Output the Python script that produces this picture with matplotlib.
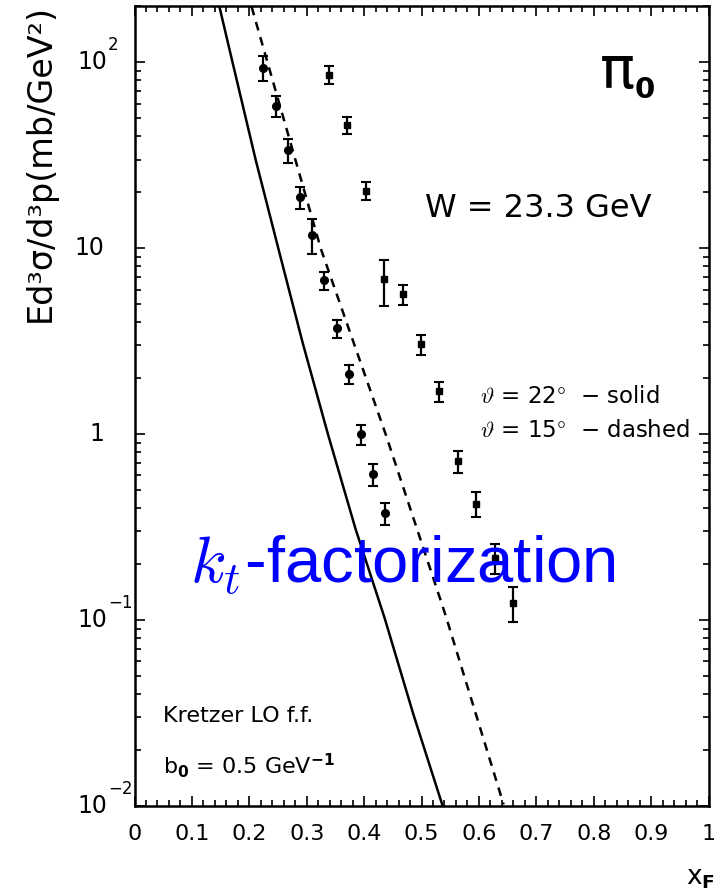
import numpy as np
import matplotlib
matplotlib.use("Agg")
import matplotlib.pyplot as plt
from matplotlib.ticker import FixedLocator, MultipleLocator, NullFormatter
import matplotlib.transforms as mtransforms

# measured invariant cross sections, pi0 at W = 23.3 GeV
xf_circ = [0.224, 0.246, 0.268, 0.289, 0.309, 0.331, 0.352, 0.373, 0.395, 0.416, 0.437]
sig_circ = [93.7, 58.5, 33.7, 18.8, 11.8, 6.71, 3.71, 2.12, 1.00, 0.61, 0.376]
err_circ = [14.5, 7.6, 5.0, 2.5, 2.5, 0.75, 0.41, 0.25, 0.12, 0.083, 0.051]

xf_sq = [0.338, 0.371, 0.403, 0.434, 0.467, 0.499, 0.531, 0.563, 0.595, 0.628, 0.659]
sig_sq = [85.8, 46.2, 20.4, 6.8, 5.65, 3.05, 1.70, 0.713, 0.422, 0.216, 0.124]
err_sq = [9.5, 4.9, 2.3, 1.9, 0.70, 0.38, 0.21, 0.097, 0.065, 0.040, 0.026]

# k_t-factorization curves
xf_solid = [0.148, 0.171, 0.211, 0.251, 0.293, 0.337, 0.385, 0.436, 0.486, 0.536]
sig_solid = [199.0, 99.4, 30.0, 9.86, 3.1, 1.0, 0.31, 0.102, 0.031, 0.0102]
xf_dashed = [0.204, 0.325, 0.438, 0.542, 0.643]
sig_dashed = [199.0, 9.86, 0.99, 0.106, 0.0102]

ytick_vals = [1e-2, 1e-1, 1, 10, 100]
ytick_base = ["10", "10", "1", "10", "10"]
ytick_exp = ["\u22122", "\u22121", "", "", "2"]
xtick_vals = [0, 0.1, 0.2, 0.3, 0.4, 0.5, 0.6, 0.7, 0.8, 0.9, 1.0]
xtick_text = ["0", "0.1", "0.2", "0.3", "0.4", "0.5", "0.6", "0.7", "0.8", "0.9", "1"]

W, H = 714, 894
fig = plt.figure(figsize=(W / 100, H / 100), dpi=100)
ax = fig.add_axes([134.5 / W, (H - 806) / H, 574 / W, 800 / H])

def fx(px):
    return px / W

def fy(py):
    return 1 - py / H

ax.set_yscale("log")
ax.set_xlim(0, 1)
ax.set_ylim(0.01, 201)

ax.plot(xf_solid, sig_solid, color="black", lw=1.8)
ax.plot(xf_dashed, sig_dashed, color="black", lw=1.8, linestyle=(0, (3.5, 2.8)))

ax.errorbar(xf_circ, sig_circ, yerr=err_circ, fmt="o", color="black", ms=5.5,
            elinewidth=1.6, capsize=3.6, capthick=1.5)
ax.errorbar(xf_sq, sig_sq, yerr=err_sq, fmt="s", color="black", ms=5,
            elinewidth=1.6, capsize=3.6, capthick=1.5)

# axes frame and ticks
for s in ax.spines.values():
    s.set_linewidth(1.8)
ax.xaxis.set_major_locator(FixedLocator(xtick_vals))
ax.xaxis.set_minor_locator(MultipleLocator(0.02))
ax.set_xticklabels(xtick_text, fontsize=16)
ax.tick_params(axis="both", which="both", direction="in", top=True, right=True)
ax.tick_params(axis="both", which="major", length=7.5, width=1.2)
ax.tick_params(axis="both", which="minor", length=4, width=1.2)
ax.tick_params(axis="x", which="major", pad=13)
ax.yaxis.set_major_locator(FixedLocator(ytick_vals))
ax.yaxis.set_major_formatter(NullFormatter())
ax.yaxis.set_minor_formatter(NullFormatter())

trans = mtransforms.blended_transform_factory(fig.transFigure, ax.transData)
for v, b, e in zip(ytick_vals, ytick_base, ytick_exp):
    xr = 107 if e else 104
    ax.text(fx(xr), v, b, transform=trans, ha="right", va="center", fontsize=17,
            clip_on=False)
    if e:
        ax.text(fx(108), v * 10 ** 0.045, e, transform=trans, ha="left",
                va="bottom", fontsize=12, clip_on=False)

# axis titles
fig.text(fx(40), fy(163), "Ed\u00b3\u03c3/d\u00b3p(mb/GeV\u00b2)", rotation=90,
         ha="center", va="center", fontsize=24)
fig.text(fx(700), fy(878), r"x$_\mathbf{F}$", ha="center", va="center", fontsize=19)

# annotations
fig.text(fx(600), fy(88), "\u03c0", fontsize=42, ha="left", va="baseline")
fig.text(fx(635), fy(98), "0", fontsize=21, fontweight="bold", ha="left", va="baseline")
fig.text(fx(425), fy(217), "W = 23.3 GeV", fontsize=23, ha="left", va="baseline")
fig.text(fx(480), fy(403), "$\\vartheta$ = 22$\\degree$  \u2212 solid",
         fontsize=16.5, ha="left", va="baseline", math_fontfamily="cm")
fig.text(fx(480), fy(437), "$\\vartheta$ = 15$\\degree$  \u2212 dashed",
         fontsize=16.5, ha="left", va="baseline", math_fontfamily="cm")
fig.text(fx(190), fy(583), r"$k_t$-factorization", fontsize=47, color="#0000ff",
         family="Liberation Sans", math_fontfamily="cm", ha="left", va="baseline")
fig.text(fx(163), fy(722), "Kretzer LO f.f.", fontsize=16, ha="left", va="baseline")
fig.text(fx(163), fy(774), r"b$_\mathbf{0}$ = 0.5 GeV$^{\mathbf{-1}}$", fontsize=16,
         ha="left", va="baseline")

fig.savefig("out.png", dpi=100)
